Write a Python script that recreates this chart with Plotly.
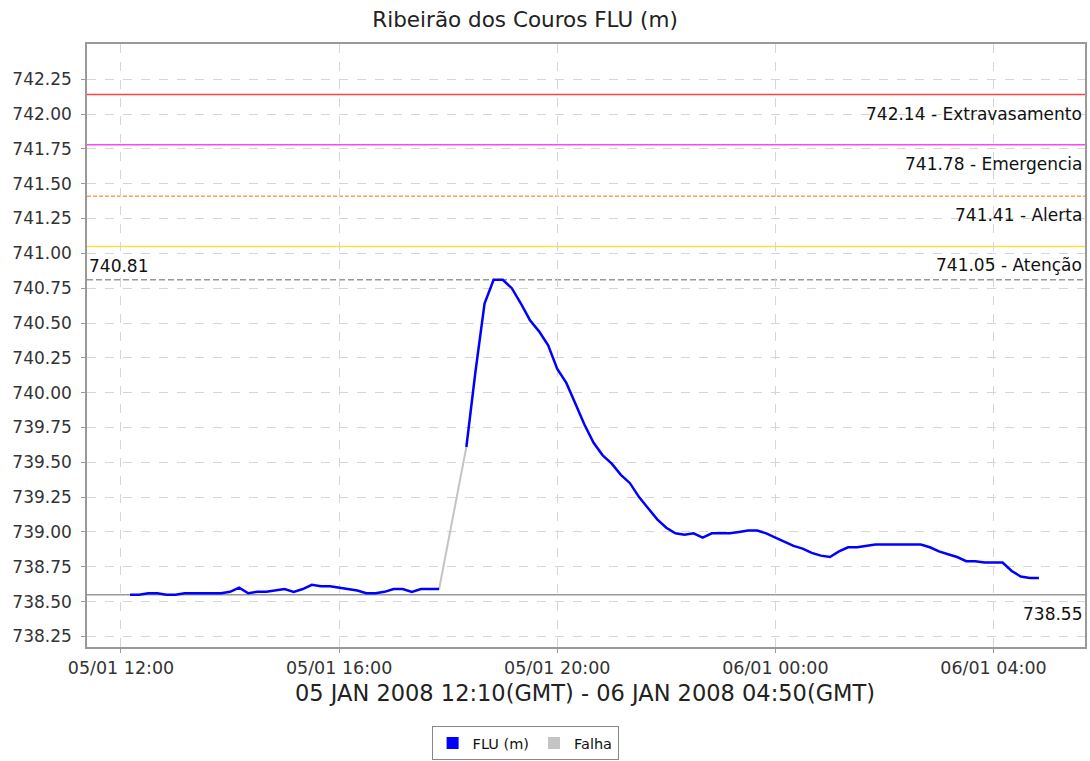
import plotly.graph_objects as go

# ---------------- data ----------------
flu_times_1 = [
    "2008-01-05 12:10", "2008-01-05 12:20", "2008-01-05 12:30", "2008-01-05 12:40", "2008-01-05 12:50",
    "2008-01-05 13:00", "2008-01-05 13:10", "2008-01-05 13:20", "2008-01-05 13:30", "2008-01-05 13:40",
    "2008-01-05 13:50", "2008-01-05 14:00", "2008-01-05 14:10", "2008-01-05 14:20", "2008-01-05 14:30",
    "2008-01-05 14:40", "2008-01-05 14:50", "2008-01-05 15:00", "2008-01-05 15:10", "2008-01-05 15:20",
    "2008-01-05 15:30", "2008-01-05 15:40", "2008-01-05 15:50", "2008-01-05 16:00", "2008-01-05 16:10",
    "2008-01-05 16:20", "2008-01-05 16:30", "2008-01-05 16:40", "2008-01-05 16:50", "2008-01-05 17:00",
    "2008-01-05 17:10", "2008-01-05 17:20", "2008-01-05 17:30", "2008-01-05 17:40", "2008-01-05 17:50",
]
flu_values_1 = [
    738.55, 738.55, 738.56, 738.56, 738.55,
    738.55, 738.56, 738.56, 738.56, 738.56,
    738.56, 738.57, 738.60, 738.56, 738.57,
    738.57, 738.58, 738.59, 738.57, 738.59,
    738.62, 738.61, 738.61, 738.60, 738.59,
    738.58, 738.56, 738.56, 738.57, 738.59,
    738.59, 738.57, 738.59, 738.59, 738.59,
]
flu_times_2 = [
    "2008-01-05 18:20", "2008-01-05 18:30", "2008-01-05 18:40", "2008-01-05 18:50", "2008-01-05 19:00",
    "2008-01-05 19:10", "2008-01-05 19:20", "2008-01-05 19:30", "2008-01-05 19:40", "2008-01-05 19:50",
    "2008-01-05 20:00", "2008-01-05 20:10", "2008-01-05 20:20", "2008-01-05 20:30", "2008-01-05 20:40",
    "2008-01-05 20:50", "2008-01-05 21:00", "2008-01-05 21:10", "2008-01-05 21:20", "2008-01-05 21:30",
    "2008-01-05 21:40", "2008-01-05 21:50", "2008-01-05 22:00", "2008-01-05 22:10", "2008-01-05 22:20",
    "2008-01-05 22:30", "2008-01-05 22:40", "2008-01-05 22:50", "2008-01-05 23:00", "2008-01-05 23:10",
    "2008-01-05 23:20", "2008-01-05 23:30", "2008-01-05 23:40", "2008-01-05 23:50", "2008-01-06 00:00",
    "2008-01-06 00:10", "2008-01-06 00:20", "2008-01-06 00:30", "2008-01-06 00:40", "2008-01-06 00:50",
    "2008-01-06 01:00", "2008-01-06 01:10", "2008-01-06 01:20", "2008-01-06 01:30", "2008-01-06 01:40",
    "2008-01-06 01:50", "2008-01-06 02:00", "2008-01-06 02:10", "2008-01-06 02:20", "2008-01-06 02:30",
    "2008-01-06 02:40", "2008-01-06 02:50", "2008-01-06 03:00", "2008-01-06 03:10", "2008-01-06 03:20",
    "2008-01-06 03:30", "2008-01-06 03:40", "2008-01-06 03:50", "2008-01-06 04:00", "2008-01-06 04:10",
    "2008-01-06 04:20", "2008-01-06 04:30", "2008-01-06 04:40", "2008-01-06 04:50",
]
flu_values_2 = [
    739.61, 740.15, 740.64, 740.81, 740.81,
    740.75, 740.64, 740.52, 740.44, 740.34,
    740.17, 740.07, 739.92, 739.77, 739.64,
    739.55, 739.49, 739.41, 739.35, 739.25,
    739.17, 739.09, 739.03, 738.99, 738.98,
    738.99, 738.96, 738.99, 738.99, 738.99,
    739.00, 739.01, 739.01, 738.99, 738.96,
    738.93, 738.90, 738.88, 738.85, 738.83,
    738.82, 738.86, 738.89, 738.89, 738.90,
    738.91, 738.91, 738.91, 738.91, 738.91,
    738.91, 738.89, 738.86, 738.84, 738.82,
    738.79, 738.79, 738.78, 738.78, 738.78,
    738.72, 738.68, 738.67, 738.67,
]
falha_times = ["2008-01-05 17:50", "2008-01-05 18:20"]
falha_values = [738.59, 739.61]

threshold_values = [742.14, 741.78, 741.41, 741.05]
threshold_names = ["Extravasamento", "Emergencia", "Alerta", "Atenção"]
threshold_colors = ["#ff4444", "#ff44ff", "#ffa050", "#ffdd44"]
threshold_dash = ["solid", "solid", "4px,2px", "solid"]
max_value = 740.81
min_value = 738.55

y_ticks = [738.25, 738.50, 738.75, 739.00, 739.25, 739.50, 739.75, 740.00,
           740.25, 740.50, 740.75, 741.00, 741.25, 741.50, 741.75, 742.00, 742.25]

title_text = "Ribeirão dos Couros FLU (m)"
xaxis_text = "05 JAN 2008 12:10(GMT) - 06 JAN 2008 04:50(GMT)"

# ---------------- figure ----------------
FONT = "DejaVu Sans"
fig = go.Figure()

fig.add_trace(go.Scatter(x=falha_times, y=falha_values, mode="lines",
                         line=dict(color="#c4c4c4", width=2), showlegend=False))
fig.add_trace(go.Scatter(x=flu_times_1, y=flu_values_1, mode="lines",
                         line=dict(color="#0000ff", width=2.5), showlegend=False))
fig.add_trace(go.Scatter(x=flu_times_2, y=flu_values_2, mode="lines",
                         line=dict(color="#0000ff", width=2.5), showlegend=False))
# legend entries (square swatches)
fig.add_trace(go.Scatter(x=[None], y=[None], mode="markers", name="FLU (m)",
                         marker=dict(symbol="square", size=12, color="#0000ff")))
fig.add_trace(go.Scatter(x=[None], y=[None], mode="markers", name="Falha",
                         marker=dict(symbol="square", size=12, color="#c4c4c4")))

LBL = dict(family=FONT, size=17, color="#111111")
shapes = []
annotations = []
for v, n, c, d in zip(threshold_values, threshold_names, threshold_colors, threshold_dash):
    shapes.append(dict(type="line", xref="paper", x0=0, x1=1, yref="y", y0=v, y1=v,
                       line=dict(color=c, width=1.5, dash=d), layer="below"))
    annotations.append(dict(xref="paper", x=0.999, yref="y", y=v, xanchor="right", yanchor="top",
                            yshift=-7, text=f"{v:.2f} - {n}", showarrow=False, font=LBL))
shapes.append(dict(type="line", xref="paper", x0=0, x1=1, yref="y", y0=max_value, y1=max_value,
                   line=dict(color="#999999", width=1.5, dash="6px,3px"), layer="below"))
shapes.append(dict(type="line", xref="paper", x0=0, x1=1, yref="y", y0=min_value, y1=min_value,
                   line=dict(color="#999999", width=1.5), layer="below"))
annotations.append(dict(xref="paper", x=0.0, yref="y", y=max_value, xanchor="left", yanchor="bottom",
                        yshift=2, text=f"{max_value:.2f}", showarrow=False, font=LBL))
annotations.append(dict(xref="paper", x=0.999, yref="y", y=min_value, xanchor="right", yanchor="top",
                        yshift=-7, text=f"{min_value:.2f}", showarrow=False, font=LBL))
annotations.append(dict(xref="paper", x=0.499, yref="paper", y=-0.077, xanchor="center",
                        yanchor="middle", text=xaxis_text, showarrow=False,
                        font=dict(family=FONT, size=22.5, color="#222222")))

fig.update_layout(
    width=1090, height=761,
    margin=dict(l=87, r=5, t=44, b=114, autoexpand=False),
    paper_bgcolor="white", plot_bgcolor="white",
    title=dict(text=title_text, x=0.4817, xanchor="center", y=0.975, yanchor="middle",
               font=dict(family=FONT, size=21.5, color="#222222")),
    shapes=shapes, annotations=annotations,
    showlegend=True,
    legend=dict(orientation="h", x=0.439, xanchor="center",
                yref="container", y=(761 - 726) / 761, yanchor="top",
                bordercolor="#888888", borderwidth=1, bgcolor="white",
                font=dict(family=FONT, size=14.5, color="#111111"),
                itemsizing="constant", tracegroupgap=0),
    font=dict(family=FONT),
)
fig.update_xaxes(
    type="date", automargin=False,
    range=["2008-01-05 11:22:36", "2008-01-06 05:40:40"],
    tick0="2008-01-05 00:00", dtick=4 * 3600 * 1000, tickformat="%d/%m %H:%M",
    showgrid=True, gridcolor="#d6d6d6", griddash="dash", gridwidth=1,
    ticks="outside", ticklen=4, tickcolor="#999999", ticklabelstandoff=0,
    showline=True, linecolor="#999999", linewidth=1.5, mirror=True,
    tickfont=dict(family=FONT, size=17.5, color="#333333"),
    zeroline=False,
)
fig.update_yaxes(
    automargin=False,
    range=[738.174, 742.503],
    tickvals=y_ticks, ticktext=[f"{t:.2f}" for t in y_ticks],
    showgrid=True, gridcolor="#d6d6d6", griddash="dash", gridwidth=1,
    ticks="outside", ticklen=4, tickcolor="#999999", ticklabelstandoff=6,
    showline=True, linecolor="#999999", linewidth=1.5, mirror=True,
    tickfont=dict(family=FONT, size=17, color="#333333"),
    zeroline=False,
)

fig.write_html("out.html", config={"displayModeBar": False},
               post_script="document.body.style.margin='0';document.body.style.padding='0';")
